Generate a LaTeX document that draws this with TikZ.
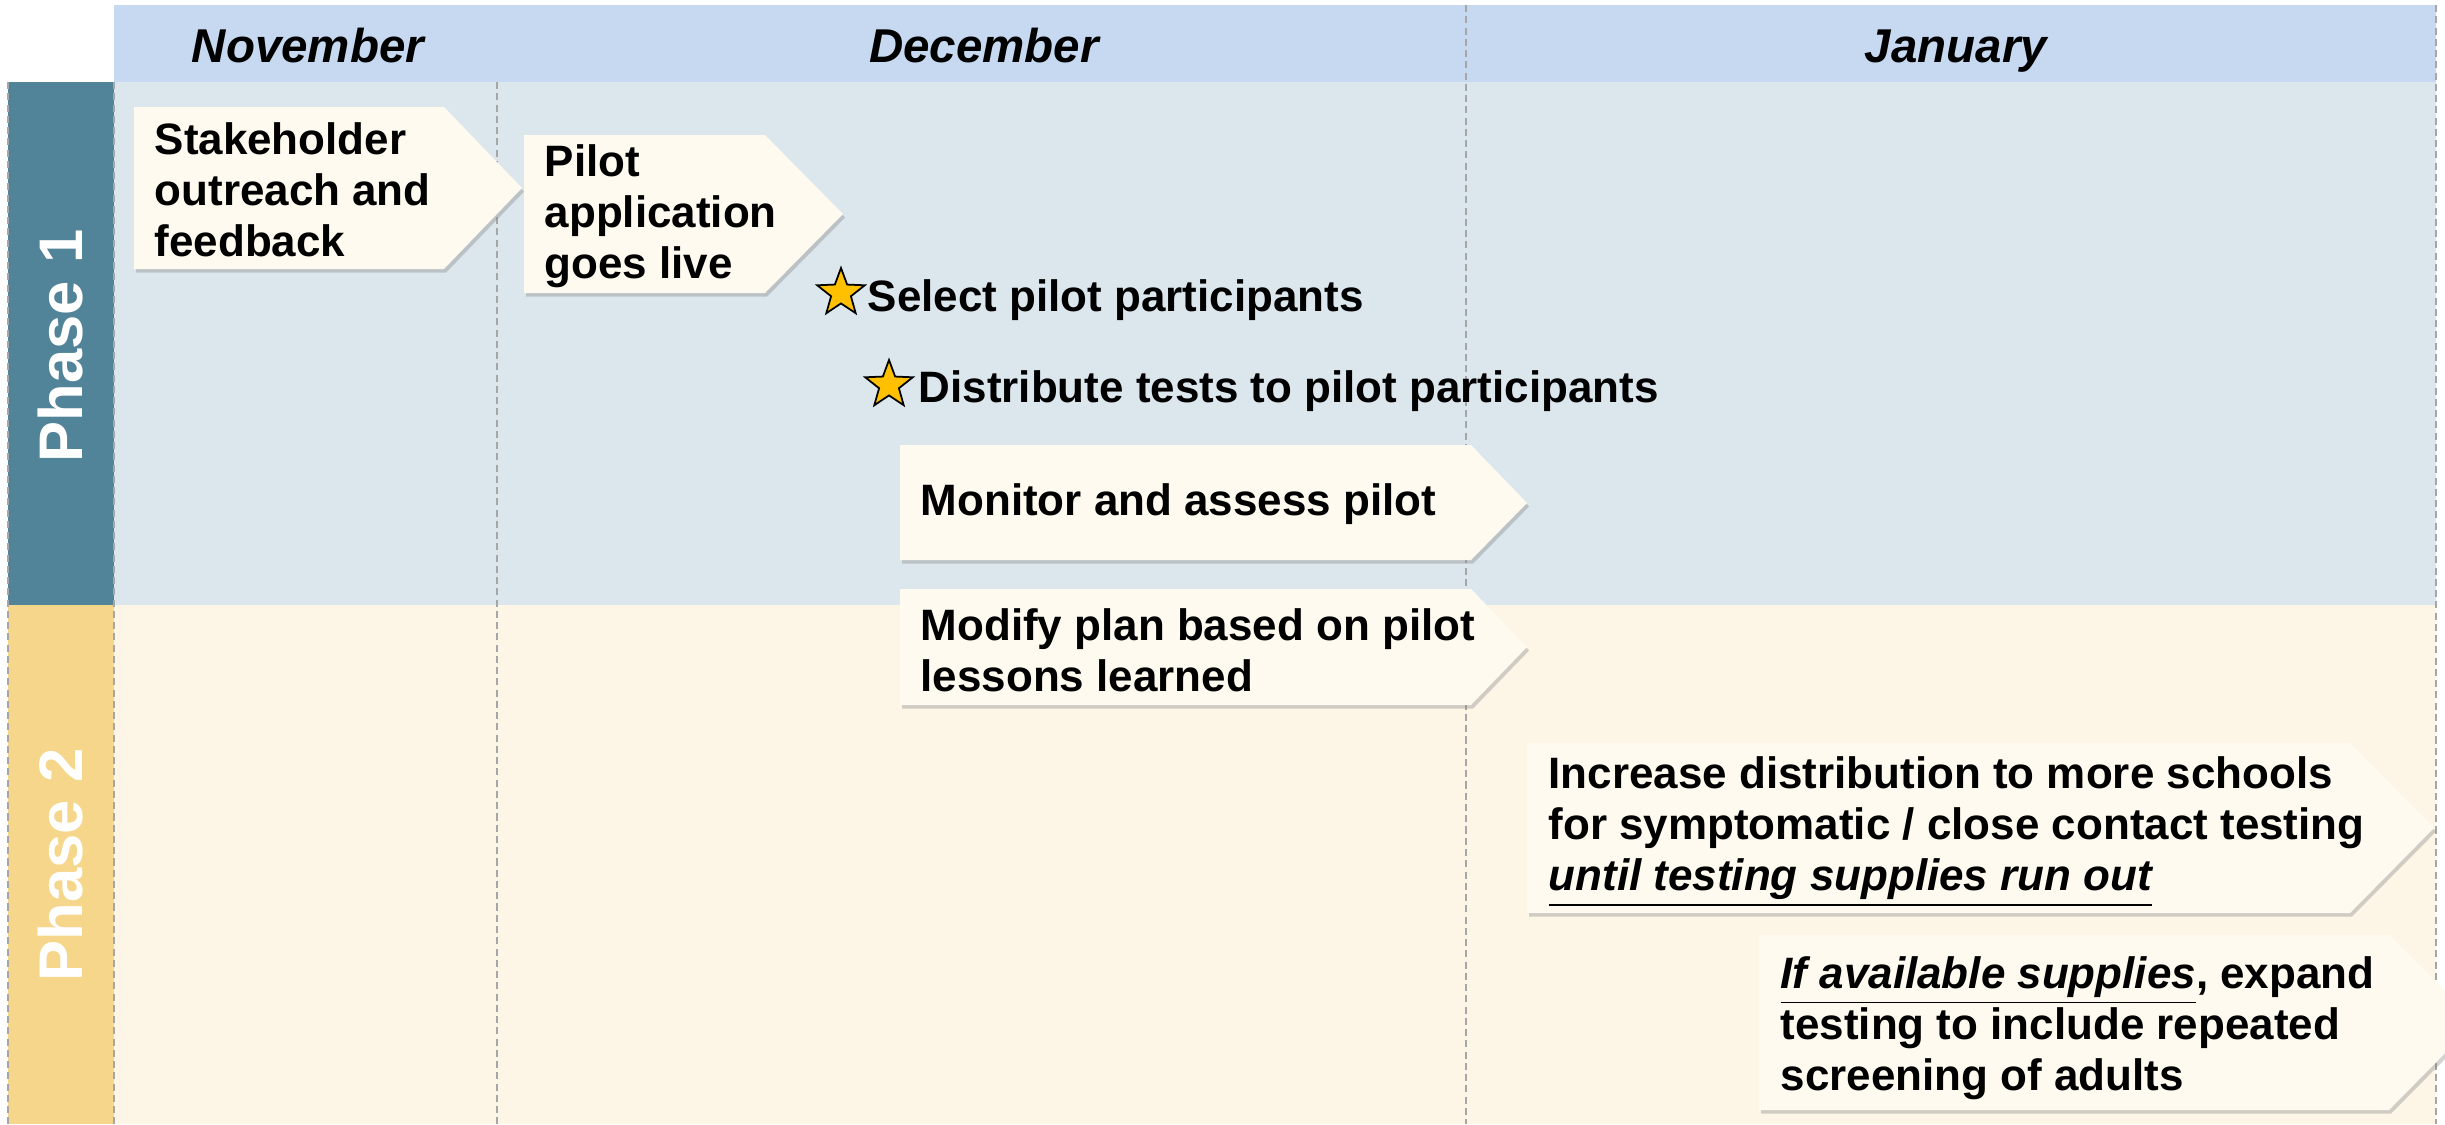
\documentclass[tikz,border=0pt]{standalone}
\usepackage{fontspec}
\setmainfont{Liberation Sans}
\usetikzlibrary{shapes.geometric,shadows}

\definecolor{headblue}{RGB}{198,217,240}
\definecolor{phaseonebg}{RGB}{220,230,237}
\definecolor{phasetwobg}{RGB}{253,246,231}
\definecolor{phaseonebar}{RGB}{81,131,153}
\definecolor{phasetwobar}{RGB}{246,214,138}
\definecolor{boxcream}{RGB}{254,250,239}
\definecolor{stargold}{RGB}{255,192,0}
\definecolor{gridgray}{RGB}{166,166,166}

\tikzset{
	monthlabel/.style={font=\fontsize{13.5}{16}\selectfont\bfseries\itshape, anchor=base},
	phaselabel/.style={font=\fontsize{17.5}{20}\selectfont\bfseries, text=white, rotate=90, anchor=base},
	gridline/.style={gridgray, line width=0.6pt, dash pattern=on 2pt off 1.2pt},
	chevron/.style={fill=boxcream, drop shadow={shadow xshift=0.6pt, shadow yshift=-1pt, opacity=0.35}},
	boxtext/.style={font=\fontsize{12.5}{14.5}\selectfont\bfseries, align=left, anchor=west, inner sep=0pt},
	milestone/.style={star, star points=5, star point ratio=2.4, minimum size=0.5cm, inner sep=0pt, fill=stargold, draw=black, line width=0.5pt},
}

\begin{document}
\begin{tikzpicture}[x=0.01cm, y=-0.01cm]
			%%%%% START %%%%%
			\useasboundingbox (0,0) rectangle (2445,1124);
			
			\fill[headblue] (114,5) rectangle (2436,82);
			\fill[phaseonebg] (114,82) rectangle (2436,605);
			\fill[phasetwobg] (114,605) rectangle (2436,1124);
			\fill[phaseonebar] (8,82) rectangle (114,605);
			\fill[phasetwobar] (8,605) rectangle (114,1124);
			
			\draw[gridline] (8,82) -- (8,1124);
			\draw[gridline] (114,82) -- (114,1124);
			\draw[gridline] (497,82) -- (497,1124);
			\draw[gridline] (1466,5) -- (1466,1124);
			\draw[gridline] (2436,5) -- (2436,1124);
			
			\node[monthlabel] (nov) at (308,62) {November};
			\node[monthlabel] (dec) at (984,62) {December};
			\node[monthlabel] (jan) at (1956,62) {January};
			
			\node[phaselabel] (phaseone) at (82,346) {Phase 1};
			\node[phaselabel] (phasetwo) at (82,865) {Phase 2};
			
			\path[chevron] (134,107) -- (444,107) -- (522,188) -- (444,269) -- (134,269) -- cycle;
			\node[boxtext] (outreach) at (154,190) {Stakeholder\\outreach and\\feedback};
			
			\path[chevron] (524,135) -- (765,135) -- (843,214) -- (765,293) -- (524,293) -- cycle;
			\node[boxtext] (golive) at (544,216) {Pilot\\application\\goes live};
			
			\node[milestone] (starone) at (841,293) {};
			\node[boxtext] (select) at (867,300) {Select pilot participants};
			\node[milestone] (startwo) at (889,385) {};
			\node[boxtext] (distribute) at (918,391) {Distribute tests to pilot participants};
			
			\path[chevron] (900,445) -- (1471,445) -- (1527,503) -- (1471,560) -- (900,560) -- cycle;
			\node[boxtext] (monitor) at (920,504) {Monitor and assess pilot};
			
			\path[chevron] (900,589) -- (1471,589) -- (1527,647) -- (1471,705) -- (900,705) -- cycle;
			\node[boxtext] (modify) at (920,650) {Modify plan based on pilot\\lessons learned};
			
			\path[chevron] (1527,743) -- (2350,743) -- (2434,828) -- (2350,913) -- (1527,913) -- cycle;
			\node[boxtext] (increase) at (1548,832) {Increase distribution to more schools\\for symptomatic / close contact testing\\\underline{\itshape until testing supplies run out}};
			
			\path[chevron] (1759,935) -- (2389,935) -- (2476,1022) -- (2389,1110) -- (1759,1110) -- cycle;
			\node[boxtext] (expand) at (1780,1028) {\underline{\itshape If available supplies}, expand\\testing to include repeated\\screening of adults};
			%%%%% END %%%%%
\end{tikzpicture}
\end{document}
